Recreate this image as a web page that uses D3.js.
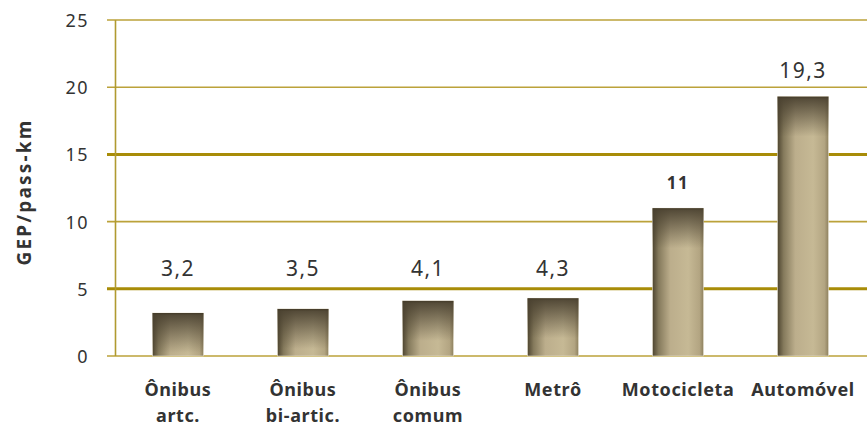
<!DOCTYPE html>
<html><head><meta charset="utf-8">
<script src="https://cdn.jsdelivr.net/npm/d3@7"></script>
<style>body{margin:0;background:#fff;overflow:hidden;} svg{display:block;}</style>
</head><body>
<svg id="c" width="867" height="430"></svg>
<script>
const categories = [["Ônibus","artc."],["Ônibus","bi-artic."],["Ônibus","comum"],["Metrô"],["Motocicleta"],["Automóvel"]];
const values = [3.2, 3.5, 4.1, 4.3, 11, 19.3];
const valueLabels = ["3,2","3,5","4,1","4,3","11","19,3"];
const yTicks = [0,5,10,15,20,25];
const thickTicks = [5,15];
const yTitle = "GEP/pass-km";

const svg = d3.select("#c");
const W = 867, H = 430;
const FONT = "Noto Sans, sans-serif";
const y = d3.scaleLinear().domain([0,25]).range([356,20]);
const x = d3.scaleBand().domain(d3.range(values.length)).range([115.5,865.5]).paddingInner(0.592).paddingOuter(0.296);

const defs = svg.append("defs");
const gh = defs.append("linearGradient").attr("id","gh").attr("x1","0").attr("x2","1").attr("y1","0").attr("y2","0");
[[0,"#4e4530"],[0.12,"#857a5c"],[0.35,"#bcae8c"],[0.7,"#c6b995"],[0.92,"#b3a582"],[1,"#8e815f"]].forEach(s=>gh.append("stop").attr("offset",s[0]).attr("stop-color",s[1]));
const gv = defs.append("linearGradient").attr("id","gv").attr("x1","0").attr("x2","0").attr("y1","0").attr("y2","1");
[[0,"#433a28",1],[0.06,"#4a4130",0.9],[1,"#4a4130",0]].forEach(s=>gv.append("stop").attr("offset",s[0]).attr("stop-color",s[1]).attr("stop-opacity",s[2]));

// gridlines
svg.append("g").selectAll("line").data(yTicks).join("line")
  .attr("x1",107).attr("x2",W)
  .attr("y1",d=>y(d)).attr("y2",d=>y(d))
  .attr("stroke",d=>thickTicks.includes(d)?"#a88c08":"#bba23a")
  .attr("stroke-width",d=>thickTicks.includes(d)?3:1.6);
// y axis line
svg.append("line").attr("x1",115.5).attr("x2",115.5).attr("y1",y(25)).attr("y2",y(0)).attr("stroke","#b09a30").attr("stroke-width",1.6);

// tick labels
svg.append("g").selectAll("text").data(yTicks).join("text")
  .attr("x",89).attr("y",d=>y(d)+7)
  .attr("text-anchor","end").attr("font-family",FONT).attr("font-size",18).attr("letter-spacing",1.5).attr("fill","#333")
  .text(d=>d);

// y title
svg.append("text").attr("transform","translate(31,192) rotate(-90)")
  .attr("text-anchor","middle").attr("font-family",FONT).attr("font-weight","bold").attr("font-size",19).attr("letter-spacing",2.2).attr("fill","#333")
  .text(yTitle);

// bars
const bars = svg.append("g");
bars.selectAll("rect.b").data(values).join("rect").attr("class","b")
  .attr("x",(d,i)=>x(i)).attr("width",x.bandwidth())
  .attr("y",d=>y(d)).attr("height",d=>y(0)-y(d))
  .attr("fill","url(#gh)").attr("stroke","#e8e2d0").attr("stroke-width",0.6);
bars.selectAll("rect.t").data(values).join("rect").attr("class","t")
  .attr("x",(d,i)=>x(i)).attr("width",x.bandwidth())
  .attr("y",d=>y(d)).attr("height",d=>Math.min(40,y(0)-y(d)))
  .attr("fill","url(#gv)");

// value labels (kept clear of the 5-gridline)
svg.append("g").selectAll("text").data(values).join("text")
  .attr("x",(d,i)=>x(i)+x.bandwidth()/2)
  .attr("y",d=>Math.min(y(d)-19, y(5)-13))
  .attr("text-anchor","middle").attr("font-family",FONT)
  .attr("font-size",(d,i)=>valueLabels[i].includes(",")?21:17)
  .attr("font-weight",(d,i)=>valueLabels[i].includes(",")?"normal":"bold")
  .attr("letter-spacing",1.5)
  .attr("fill","#333")
  .text((d,i)=>valueLabels[i]);

// category labels
const cl = svg.append("g").selectAll("text").data(categories).join("text")
  .attr("x",(d,i)=>x(i)+x.bandwidth()/2)
  .attr("y",396)
  .attr("text-anchor","middle").attr("font-family",FONT).attr("font-weight","bold").attr("font-size",18).attr("letter-spacing",0.6).attr("fill","#333");
cl.selectAll("tspan").data(d=>d).join("tspan")
  .attr("x",function(){return this.parentNode.getAttribute("x");})
  .attr("dy",(d,j)=>j===0?0:26)
  .text(d=>d);
</script>
</body></html>
